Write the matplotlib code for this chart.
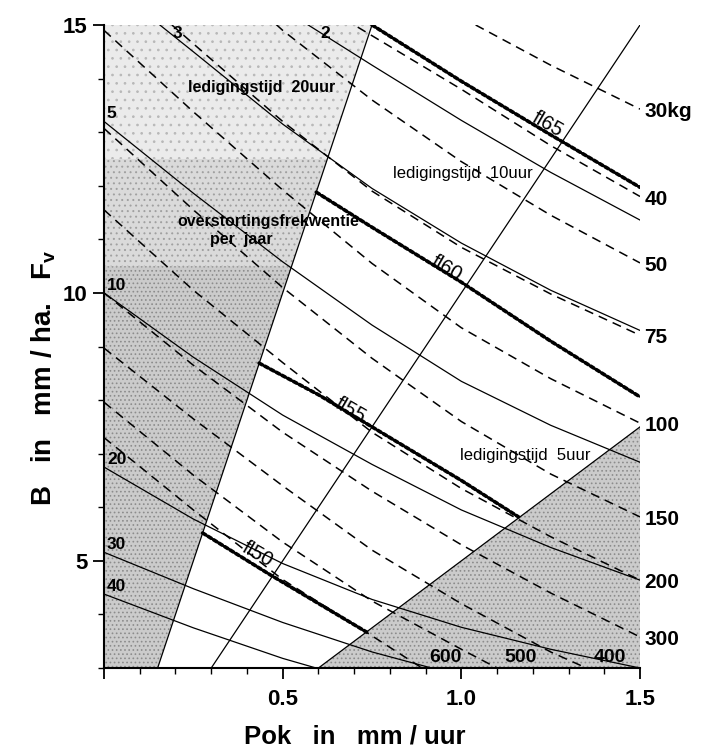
import matplotlib.pyplot as plt

plt.rcParams['font.family'] = ['Liberation Sans', 'DejaVu Sans']
plt.rcParams['mathtext.fontset'] = 'custom'
plt.rcParams['mathtext.rm'] = 'Liberation Sans'
plt.rcParams['mathtext.bf'] = 'Liberation Sans:bold'
plt.rcParams['hatch.linewidth'] = 0.7

# overstortingsfrekwentie per jaar (thin solid curves)
freq_labels = ['2', '3', '5', '10', '20', '30', '40']
freq_x = [
    [0.5, 0.75, 1.0, 1.25, 1.5],
    [0.1, 0.25, 0.5, 0.75, 1.0, 1.25, 1.5],
    [0, 0.25, 0.5, 0.75, 1.0, 1.25, 1.5],
    [0, 0.25, 0.5, 0.75, 1.0, 1.25, 1.5],
    [0, 0.25, 0.5, 0.75, 1.0, 1.25, 1.5],
    [0, 0.25, 0.5, 0.75, 1.0],
    [0, 0.25, 0.5, 0.75],
]
freq_y = [
    [15.3, 14.25, 13.22, 12.25, 11.36],
    [15.3, 14.5, 13.15, 11.95, 10.93, 10.05, 9.3],
    [13.2, 11.86, 10.58, 9.4, 8.35, 7.53, 6.84],
    [10.0, 8.8, 7.72, 6.8, 5.95, 5.25, 4.64],
    [6.75, 5.78, 4.95, 4.28, 3.76, 3.35, 3.0],
    [5.16, 4.48, 3.85, 3.3, 2.85],
    [4.38, 3.75, 3.18, 2.7],
]

# overstortingsvracht in kg (dashed curves)
kg_labels = ['30kg', '40', '50', '75', '100', '150', '200', '300', '400', '500', '600']
kg_x = [
    [1.04, 1.25, 1.5],
    [0.6, 0.75, 1.0, 1.25, 1.5],
    [0.45, 0.5, 0.75, 1.0, 1.25, 1.5],
    [0.19, 0.25, 0.5, 0.75, 1.0, 1.25, 1.5],
    [0, 0.25, 0.5, 0.75, 1.0, 1.25, 1.5],
    [0, 0.25, 0.5, 0.75, 1.0, 1.25, 1.5],
    [0, 0.25, 0.5, 0.75, 1.0, 1.25, 1.5],
    [0, 0.25, 0.5, 0.75, 1.0, 1.25, 1.5],
    [0, 0.25, 0.5, 0.75, 1.0, 1.25, 1.35],
    [0, 0.25, 0.5, 0.75, 1.0, 1.1],
    [0, 0.25, 0.5, 0.75, 0.89],
]
kg_y = [
    [15.0, 14.25, 13.43],
    [15.4, 14.8, 13.8, 12.75, 11.8],
    [15.2, 14.9, 13.6, 12.45, 11.45, 10.56],
    [15.0, 14.65, 13.2, 11.9, 10.85, 9.98, 9.21],
    [14.9, 13.38, 11.92, 10.55, 9.35, 8.4, 7.57],
    [13.07, 11.55, 10.1, 8.78, 7.6, 6.62, 5.82],
    [11.55, 10.05, 8.7, 7.4, 6.35, 5.45, 4.64],
    [10.0, 8.65, 7.4, 6.3, 5.3, 4.4, 3.58],
    [8.97, 7.65, 6.4, 5.2, 4.2, 3.3, 3.0],
    [7.96, 6.6, 5.35, 4.25, 3.35, 3.0],
    [7.3, 5.95, 4.65, 3.6, 3.0],
]

# kosten in guldens (heavy dotted curves)
cost_labels = ['fl50', 'fl55', 'fl60', 'fl65']
cost_x = [
    [0.276, 0.465, 0.735],
    [0.434, 0.6, 0.8, 1.0, 1.16],
    [0.594, 0.744, 1.0, 1.25, 1.5],
    [0.75, 1.0, 1.25, 1.5],
]
cost_y = [
    [5.52, 4.74, 3.67],
    [8.69, 8.1, 7.3, 6.5, 5.82],
    [11.88, 11.25, 10.2, 9.1, 8.06],
    [15.0, 13.95, 12.95, 11.97],
]

# ledigingstijd in uur (straight lines B = Pok * T)
empty_hours = [20, 10, 5]

fig = plt.figure(figsize=(7.01, 7.55), dpi=100)
ax = fig.add_axes([0.1484, 0.1152, 0.7646, 0.8517])
ax.set_xlim(0, 1.5)
ax.set_ylim(3, 15)

# shaded zones, left one fading towards the top
bands = [(3, 10.5, '#cbcbcb', '#8c8c8c', '....'),
         (10.5, 12.5, '#dadada', '#a0a0a0', '...'),
         (12.5, 15, '#ebebeb', '#b8b8b8', '..')]
for y0, y1, fc, hc, hatch in bands:
    ax.fill_betweenx([y0, y1], [0, 0], [y0 / 20, y1 / 20], facecolor=fc,
                     edgecolor=hc, hatch=hatch, lw=0, zorder=0)
ax.fill_betweenx([3, 7.5], [3 / 5, 7.5 / 5], [1.5, 1.5], facecolor='#cbcbcb',
                 edgecolor='#8c8c8c', hatch='....', lw=0, zorder=0)

for t in empty_hours:
    ax.plot([3 / t, 15 / t], [3, 15], color='black', lw=0.9, zorder=2)

for lab, xs, ys in zip(freq_labels, freq_x, freq_y):
    ax.plot(xs, ys, color='black', lw=0.9, zorder=3)
    if xs[0] == 0:
        ax.text(0.008, ys[0] + 0.14, lab, fontsize=12.5, fontweight='bold',
                ha='left', va='center', zorder=5)
ax.text(0.205, 14.84, '3', fontsize=12.5, fontweight='bold', ha='center', va='center')
ax.text(0.62, 14.84, '2', fontsize=12.5, fontweight='bold', ha='center', va='center')

for lab, xs, ys in zip(kg_labels, kg_x, kg_y):
    ax.plot(xs, ys, color='black', lw=1.1, ls=(0, (6, 4)), zorder=3)
    if xs[-1] >= 1.5:
        ax.text(1.512, ys[-1] - 0.05, lab, fontsize=15, fontweight='bold',
                ha='left', va='center', clip_on=False)
    else:
        ax.text(xs[-1] + 0.065, 3.2, lab, fontsize=14, fontweight='bold',
                ha='center', va='center', zorder=5)

for lab, xs, ys in zip(cost_labels, cost_x, cost_y):
    ax.plot(xs, ys, color='black', lw=1.3, zorder=4)
    ax.plot(xs, ys, color='black', lw=2.6, ls=(0, (1, 0.8)),
            dash_capstyle='round', zorder=4)

cost_text_pos = [(0.43, 5.12), (0.69, 7.8), (0.96, 10.45), (1.24, 13.15)]
for lab, (tx, ty) in zip(cost_labels, cost_text_pos):
    ax.text(tx, ty, lab, fontsize=14.5, rotation=-30, ha='center', va='center',
            zorder=5)

ax.text(0.44, 13.84, 'ledigingstijd  20uur', fontsize=11.5, fontweight='bold',
        ha='center', va='center', zorder=5)
ax.text(1.005, 12.23, 'ledigingstijd  10uur', fontsize=12, ha='center',
        va='center', zorder=5)
ax.text(1.178, 6.97, 'ledigingstijd  5uur', fontsize=12, ha='center',
        va='center', zorder=5)
ax.text(0.46, 11.33, 'overstortingsfrekwentie', fontsize=11.5, fontweight='bold',
        ha='center', va='center', zorder=5)
ax.text(0.383, 11.0, 'per  jaar', fontsize=11.5, fontweight='bold',
        ha='center', va='center', zorder=5)

# axes
for side in ['top', 'right']:
    ax.spines[side].set_visible(False)
for side in ['left', 'bottom']:
    ax.spines[side].set_linewidth(1.5)
ax.set_xticks([0, 0.5, 1.0, 1.5])
ax.set_xticklabels(['', '0.5', '1.0', '1.5'])
ax.set_xticks([i / 10 for i in range(16)], minor=True)
ax.set_yticks([5, 10, 15])
ax.set_yticks(list(range(3, 16)), minor=True)
ax.tick_params(axis='both', which='major', length=8, width=1.3,
               labelsize=16, direction='out')
ax.tick_params(axis='both', which='minor', length=4, width=1.0, direction='out')
ax.tick_params(axis='x', which='major', pad=7)
ax.tick_params(axis='y', which='major', pad=4)
for lab in ax.get_xticklabels() + ax.get_yticklabels():
    lab.set_fontweight('bold')

fig.text(0.506, 0.025, 'Pok   in   mm / uur', fontsize=18.5, fontweight='bold',
         ha='center', va='center')
fig.text(0.062, 0.5, r'B   in   mm / ha.   F$_\mathbf{v}$', fontsize=20,
         fontweight='bold', rotation=90, ha='center', va='center')

fig.savefig('out.png', dpi=100)
